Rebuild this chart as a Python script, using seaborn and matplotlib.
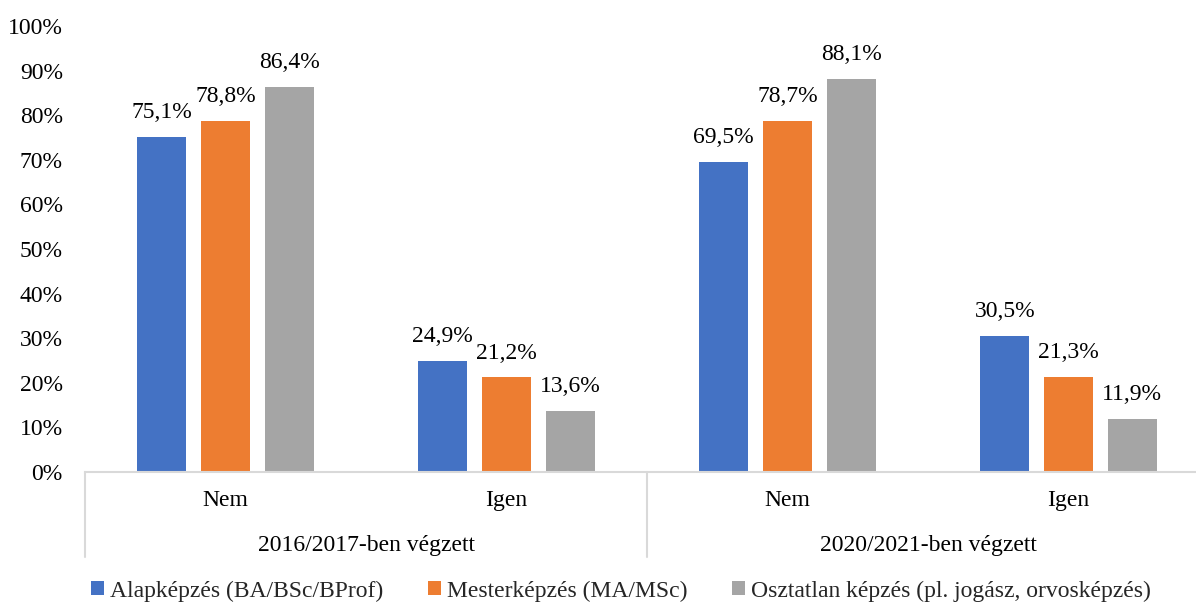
import matplotlib
matplotlib.use("Agg")
import matplotlib.pyplot as plt
import seaborn as sns
import pandas as pd
from matplotlib.lines import Line2D
from matplotlib.patches import Patch

groups = ["2016/2017-ben végzett", "2020/2021-ben végzett"]
answers = ["Nem", "Igen"]
series = ["Alapképzés (BA/BSc/BProf)", "Mesterképzés (MA/MSc)",
          "Osztatlan képzés (pl. jogász, orvosképzés)"]
alap = [75.1, 24.9, 69.5, 30.5]
mester = [78.8, 21.2, 78.7, 21.3]
osztatlan = [86.4, 13.6, 88.1, 11.9]
colors = ["#4472C4", "#ED7D31", "#A5A5A5"]

cats = [f"{g}|{a}" for g in groups for a in answers]
rows = []
for s, vals in zip(series, [alap, mester, osztatlan]):
    for c, v in zip(cats, vals):
        rows.append({"cat": c, "series": s, "value": v})
df = pd.DataFrame(rows)

sns.set_theme(style="white")
plt.rcParams["font.family"] = ["Liberation Serif", "DejaVu Serif"]
FS = 17

fig = plt.figure(figsize=(11.96, 6.03), dpi=100)
ax = fig.add_axes([85/1196, 131/603, 1124/1196, (472-26)/603])

sns.barplot(data=df, x="cat", y="value", hue="series", order=cats,
            hue_order=series, palette=colors, width=0.68, gap=0.225,
            ax=ax, legend=False, saturation=1, edgecolor="none", linewidth=0)

for cont in ax.containers:
    ax.bar_label(cont, labels=[f"{v:.1f}%".replace(".", ",") for v in cont.datavalues],
                 padding=10, fontsize=FS, color="#000000")

ax.set_ylim(0, 100)
ax.set_xlim(-0.5, 3.5)
ax.set_yticks(range(0, 101, 10))
ax.set_yticklabels([f"{t}%" for t in range(0, 101, 10)], fontsize=FS, color="#000000")
ax.set_xticks(range(4))
ax.set_xticklabels(answers * 2, fontsize=FS, color="#000000")
ax.tick_params(axis="both", length=0)
ax.tick_params(axis="x", pad=13)
ax.tick_params(axis="y", pad=16)
ax.set_xlabel("")
ax.set_ylabel("")
for s in ["top", "right", "left"]:
    ax.spines[s].set_visible(False)
ax.spines["bottom"].set_color("#D9D9D9")
ax.spines["bottom"].set_linewidth(1.5)

trans = ax.get_xaxis_transform()
for xpos in [-0.5, 1.5, 3.5]:
    ax.add_line(Line2D([xpos, xpos], [0, -0.19], transform=trans, color="#D9D9D9",
                       lw=1.5, clip_on=False))
for i, g in enumerate(groups):
    ax.text(0.5 + 2*i, -0.165, g, transform=trans, ha="center", va="center",
            fontsize=FS, color="#000000")

handles = [Patch(facecolor=c, edgecolor="none") for c in colors]
fig.legend(handles, series, loc="center", bbox_to_anchor=(621/1196, 0.02), ncol=3,
           frameon=False, fontsize=FS, handlelength=0.55, handleheight=0.55,
           handletextpad=0.25, columnspacing=1.9)

fig.savefig("out.png", dpi=100)
